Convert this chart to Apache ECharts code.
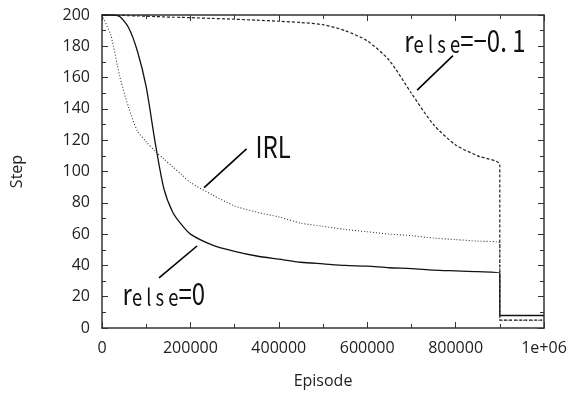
<!DOCTYPE html>
<html>
<head>
<meta charset="utf-8">
<script src="https://cdn.jsdelivr.net/npm/echarts@6/dist/echarts.min.js"></script>
<style>
  html, body { margin: 0; padding: 0; background: #fff; }
  #chart { width: 586px; height: 394px; }
</style>
</head>
<body>
<div id="chart"></div>
<script>
// episode grid (900000 is doubled for the vertical drop)
const episodes = [0, 20000, 40000, 60000, 80000, 100000, 120000, 140000, 160000, 180000, 200000,
  250000, 300000, 350000, 400000, 450000, 500000, 550000, 600000, 650000, 700000, 750000,
  800000, 850000, 900000, 900000, 1000000]

// r_else = 0  (solid)
const stepElse0 = [200, 200, 199, 192, 177, 154, 119, 89, 74, 66, 60,
  53, 49, 46, 44, 42, 41, 40, 39.5, 38.5, 38, 37,
  36.5, 36, 35, 8, 8]

// IRL (dotted)
const stepIRL = [200, 187, 161, 141, 126, 119, 113, 108, 103, 98, 93,
  85, 78, 74, 71, 67, 65, 63, 61.5, 60, 59, 57.5,
  56.5, 55.5, 54.5, 5, 5]

// r_else = -0.1 (dashed)
const stepElseM01 = [200, 200, 199.8, 199.6, 199.4, 199.2, 199, 198.8, 198.6, 198.5, 198.3,
  197.8, 197.3, 196.7, 196, 195.2, 193.8, 190, 183.5, 171, 150, 130,
  117, 110, 104, 5, 5]

const yTicks = [0, 200, 20]       // min, max, interval
const xTicks = [0, 1000000, 200000]

function pairs(ys) {
  return episodes.map((x, i) => [x, ys[i]])
}

let myChart = echarts.init(document.getElementById('chart'))

const axisFont = { color: '#222', fontSize: 16, fontFamily: 'Open Sans' }
const lineCol = '#333'

let xBase = {
  type: 'value',
  min: xTicks[0],
  max: xTicks[1],
  interval: xTicks[2],
  axisLine: { show: true, onZero: false, lineStyle: { color: lineCol, width: 1.5 } },
  axisTick: { show: true, inside: true, length: 6, lineStyle: { color: lineCol } },
  minorTick: { show: true, splitNumber: 2, length: 4, lineStyle: { color: lineCol } },
  splitLine: { show: false }
}
let yBase = {
  type: 'value',
  min: yTicks[0],
  max: yTicks[1],
  interval: yTicks[2],
  axisLine: { show: true, onZero: false, lineStyle: { color: lineCol, width: 1.5 } },
  axisTick: { show: true, inside: true, length: 6, lineStyle: { color: lineCol } },
  minorTick: { show: true, splitNumber: 2, length: 4, lineStyle: { color: lineCol } },
  splitLine: { show: false }
}

let option = {
  animation: false,
  backgroundColor: '#fff',
  grid: { left: 102, right: 42, top: 15, bottom: 65 },
  xAxis: [
    Object.assign({}, xBase, {
      position: 'bottom',
      name: 'Episode',
      nameLocation: 'middle',
      nameGap: 45,
      nameTextStyle: axisFont,
      axisLabel: Object.assign({
        margin: 12,
        formatter: v => v === 1000000 ? '1e+06' : String(v)
      }, axisFont)
    }),
    Object.assign({}, xBase, { position: 'top', axisLabel: { show: false } })
  ],
  yAxis: [
    Object.assign({}, yBase, {
      position: 'left',
      name: 'Step',
      nameLocation: 'middle',
      nameGap: 77,
      nameTextStyle: axisFont,
      axisLabel: Object.assign({ margin: 12 }, axisFont)
    }),
    Object.assign({}, yBase, { position: 'right', axisLabel: { show: false } })
  ],
  series: [
    {
      name: 'r_else=0',
      type: 'line',
      data: pairs(stepElse0),
      showSymbol: false,
      smooth: 0.25,
      lineStyle: { color: '#111', width: 1.3, type: 'solid' }
    },
    {
      name: 'IRL',
      type: 'line',
      data: pairs(stepIRL),
      showSymbol: false,
      smooth: 0.25,
      lineStyle: { color: '#333', width: 1.1, type: [1, 2] }
    },
    {
      name: 'r_else=-0.1',
      type: 'line',
      data: pairs(stepElseM01),
      showSymbol: false,
      smooth: 0.25,
      lineStyle: { color: '#222', width: 1.2, type: [3, 2] }
    }
  ]
}
myChart.setOption(option)

// annotations: label anchor + pointer line, in data coordinates
const notes = [
  { rich: '{r|r}{s|e l s e}{r|=0}', at: [140000, 22], from: [215000, 52.4], to: [129000, 32] },
  { rich: '{r|IRL}', at: [387000, 116], from: [327000, 114.5], to: [231000, 89.7] },
  { rich: '{r|r}{s|e l s e}{r|=−0. 1}', at: [821000, 183.5], from: [794000, 174], to: [713000, 152] }
]

function px(p) {
  return myChart.convertToPixel({ gridIndex: 0 }, p)
}

let graphics = []
notes.forEach(n => {
  let c = px(n.at)
  let a = px(n.from)
  let b = px(n.to)
  graphics.push({
    type: 'line',
    shape: { x1: a[0], y1: a[1], x2: b[0], y2: b[1] },
    style: { stroke: '#000', lineWidth: 1.6 }
  })
  graphics.push({
    type: 'text',
    x: c[0],
    y: c[1],
    scaleX: 0.8,
    style: {
      text: n.rich,
      align: 'center',
      verticalAlign: 'middle',
      fill: '#111',
      rich: {
        r: { fontSize: 30, fontFamily: 'Noto Sans CJK JP', fill: '#111', verticalAlign: 'bottom' },
        s: { fontSize: 23, fontFamily: 'Noto Sans CJK JP', fill: '#111', verticalAlign: 'bottom' }
      }
    }
  })
})
myChart.setOption({ graphic: graphics })
</script>
</body>
</html>
